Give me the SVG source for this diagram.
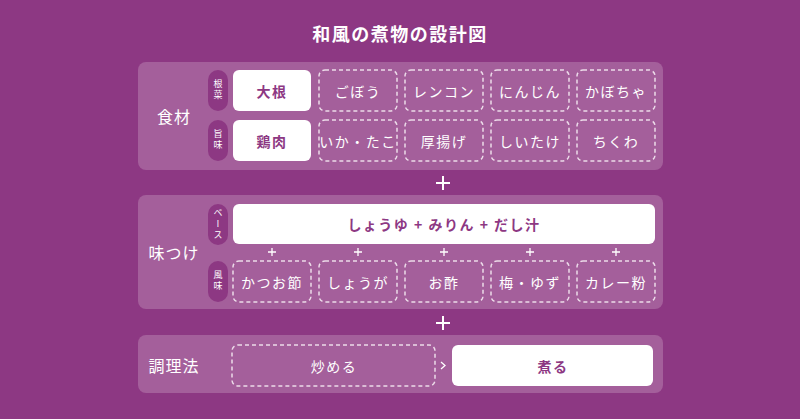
<svg xmlns="http://www.w3.org/2000/svg" width="800" height="419" viewBox="0 0 800 419">
<style>
text{font-family:"Noto Sans CJK JP","Noto Sans",sans-serif;}
.panel{fill:#a45f9b;}
.pill{fill:#8d3883;}
.solid{fill:#ffffff;}
.dash{fill:none;stroke:#ecdbe9;stroke-width:1.5;stroke-dasharray:4 3;}
.t{font-size:14px;fill:#ffffff;text-anchor:middle;dominant-baseline:central;letter-spacing:1.5px;}
.tp{font-size:14px;fill:#8d3883;font-weight:bold;text-anchor:middle;dominant-baseline:central;letter-spacing:1.5px;}
.sec{font-size:16px;fill:#ffffff;text-anchor:middle;dominant-baseline:central;letter-spacing:1px;}
.vl{font-size:9px;fill:#ffffff;writing-mode:vertical-rl;text-anchor:middle;dominant-baseline:central;letter-spacing:2px;}
.plus{stroke:#ffffff;stroke-width:2;}
.splus{stroke:#ffffff;stroke-width:1.3;}
</style>
<rect width="800" height="419" fill="#8d3883"/>
<text x="400" y="33" font-size="18" font-weight="bold" fill="#ffffff" text-anchor="middle" dominant-baseline="central" letter-spacing="1.5" style="font-family:'Noto Sans CJK JP',sans-serif">和風の煮物の設計図</text>

<g id="panel-ingredients">
<rect class="panel" x="138" y="62" width="525" height="108" rx="8"/>
<text class="sec" x="174" y="116">食材</text>
<rect class="pill" x="208" y="70" width="20" height="41" rx="10"/>
<text class="vl" x="218" y="90.5">根菜</text>
<rect class="pill" x="208" y="120" width="20" height="41" rx="10"/>
<text class="vl" x="218" y="140.5">旨味</text>
</g>
<g id="n-daikon"><rect class="solid" x="233" y="70" width="78" height="41" rx="6"/><text class="tp" x="272" y="90.5">大根</text></g>
<g id="n-gobou"><rect class="dash" x="319" y="70" width="78" height="41" rx="6"/><text class="t" x="358" y="90.5">ごぼう</text></g>
<g id="n-renkon"><rect class="dash" x="405" y="70" width="78" height="41" rx="6"/><text class="t" x="444" y="90.5">レンコン</text></g>
<g id="n-ninjin"><rect class="dash" x="491" y="70" width="78" height="41" rx="6"/><text class="t" x="530" y="90.5">にんじん</text></g>
<g id="n-kabocha"><rect class="dash" x="577" y="70" width="78" height="41" rx="6"/><text class="t" x="616" y="90.5">かぼちゃ</text></g>
<g id="n-toriniku"><rect class="solid" x="233" y="120" width="78" height="41" rx="6"/><text class="tp" x="272" y="140.5">鶏肉</text></g>
<g id="n-ikatako"><rect class="dash" x="319" y="120" width="78" height="41" rx="6"/><text class="t" x="358" y="140.5" letter-spacing="0.5">いか・たこ</text></g>
<g id="n-atsuage"><rect class="dash" x="405" y="120" width="78" height="41" rx="6"/><text class="t" x="444" y="140.5">厚揚げ</text></g>
<g id="n-shiitake"><rect class="dash" x="491" y="120" width="78" height="41" rx="6"/><text class="t" x="530" y="140.5">しいたけ</text></g>
<g id="n-chikuwa"><rect class="dash" x="577" y="120" width="78" height="41" rx="6"/><text class="t" x="616" y="140.5">ちくわ</text></g>

<g id="panel-seasoning">
<rect class="panel" x="138" y="195" width="525" height="114" rx="8"/>
<text class="sec" x="174" y="252">味つけ</text>
<rect class="pill" x="208" y="204" width="20" height="41" rx="10"/>
<text class="vl" x="218" y="224.5">ベース</text>
<rect class="pill" x="208" y="261" width="20" height="41" rx="10"/>
<text class="vl" x="218" y="281.5">風味</text>
</g>
<g id="n-base"><rect class="solid" x="233" y="204" width="422" height="40" rx="6"/><text class="tp" x="444" y="224">しょうゆ + みりん + だし汁</text></g>
<g id="n-katsuobushi"><rect class="dash" x="233" y="261" width="78" height="41" rx="6"/><text class="t" x="272" y="281.5">かつお節</text></g>
<g id="n-shouga"><rect class="dash" x="319" y="261" width="78" height="41" rx="6"/><text class="t" x="358" y="281.5">しょうが</text></g>
<g id="n-osu"><rect class="dash" x="405" y="261" width="78" height="41" rx="6"/><text class="t" x="444" y="281.5">お酢</text></g>
<g id="n-ume"><rect class="dash" x="491" y="261" width="78" height="41" rx="6"/><text class="t" x="530" y="281.5">梅・ゆず</text></g>
<g id="n-curry"><rect class="dash" x="577" y="261" width="78" height="41" rx="6"/><text class="t" x="616" y="281.5">カレー粉</text></g>

<g id="panel-method">
<rect class="panel" x="138" y="335" width="525" height="58" rx="8"/>
<text class="sec" x="174" y="365">調理法</text>
</g>
<g id="n-itameru"><rect class="dash" x="232" y="345" width="203" height="41" rx="6"/><text class="t" x="334" y="365.5">炒める</text></g>
<g id="n-niru"><rect class="solid" x="452" y="345" width="201" height="41" rx="6"/><text class="tp" x="553" y="365.5">煮る</text></g>

<g id="connectors">
<path class="plus" d="M436 183H450M443 176V190"/>
<path class="plus" d="M436 323H450M443 316V330"/>
<path class="splus" d="M268 252H276M272 248V256M354 252H362M358 248V256M440 252H448M444 248V256M526 252H534M530 248V256M612 252H620M616 248V256"/>
<path d="M441 362L445 365.5L441 369" fill="none" stroke="#ffffff" stroke-width="1.3"/>
</g>
</svg>
